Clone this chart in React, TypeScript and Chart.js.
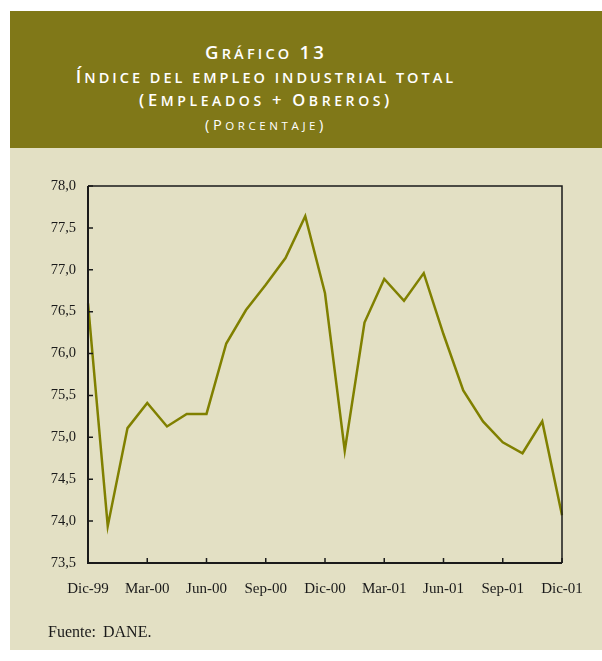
import React, { useEffect, useRef } from "react";
import { Chart, registerables } from "chart.js";

Chart.register(...registerables);

const months = [
  "Dic-99", "Ene-00", "Feb-00", "Mar-00", "Abr-00", "May-00", "Jun-00", "Jul-00", "Ago-00",
  "Sep-00", "Oct-00", "Nov-00", "Dic-00", "Ene-01", "Feb-01", "Mar-01", "Abr-01", "May-01",
  "Jun-01", "Jul-01", "Ago-01", "Sep-01", "Oct-01", "Nov-01", "Dic-01",
];
const empleo = [
  76.6, 73.94, 75.11, 75.41, 75.13, 75.28, 75.28, 76.12, 76.52, 76.82, 77.14, 77.64, 76.72,
  74.84, 76.37, 76.89, 76.63, 76.96, 76.23, 75.56, 75.19, 74.94, 74.81, 75.19, 74.07,
];
const yMin = 73.5;
const yMax = 78.0;
const yStep = 0.5;
const labelEvery = 3;

const INK = "#1a1a1a";

const framePlugin = {
  id: "frame",
  afterDraw(chart: any) {
    const { ctx, chartArea } = chart;
    const { left, right, top, bottom } = chartArea;
    const xs = chart.scales.x;
    const ys = chart.scales.y;
    ctx.save();
    ctx.strokeStyle = INK;
    ctx.lineWidth = 1.5;
    ctx.beginPath();
    ctx.moveTo(left, top);
    ctx.lineTo(right, top);
    ctx.lineTo(right, bottom);
    ctx.stroke();
    ctx.lineWidth = 2;
    ctx.beginPath();
    ctx.moveTo(left, top);
    ctx.lineTo(left, bottom);
    ctx.lineTo(right, bottom);
    ctx.stroke();
    ctx.lineWidth = 1.5;
    ctx.beginPath();
    for (let i = 0; i < months.length; i += labelEvery) {
      const x = xs.getPixelForValue(i);
      ctx.moveTo(x, bottom);
      ctx.lineTo(x, bottom - 5);
    }
    for (let v = yMin; v <= yMax + 1e-9; v += yStep) {
      const y = ys.getPixelForValue(v);
      ctx.moveTo(left, y);
      ctx.lineTo(left + 5, y);
    }
    ctx.stroke();
    ctx.restore();
  },
};

function SmallCaps({ text, big, small }: { text: string; big: number; small: number }) {
  const parts: { s: string; up: boolean }[] = [];
  for (const ch of text) {
    const up = ch !== ch.toLowerCase() || /[0-9()+]/.test(ch);
    const last = parts[parts.length - 1];
    if (last && last.up === up) last.s += ch;
    else parts.push({ s: ch, up });
  }
  return (
    <>
      {parts.map((p, i) => (
        <span key={i} style={{ fontSize: p.up ? big : small }}>
          {p.s.toUpperCase()}
        </span>
      ))}
    </>
  );
}

export default function App() {
  const ref = useRef<HTMLCanvasElement>(null);

  useEffect(() => {
    if (!ref.current) return;
    const chart = new Chart(ref.current, {
      type: "line",
      data: {
        labels: months,
        datasets: [
          {
            data: empleo,
            borderColor: "#808000",
            borderWidth: 2.5,
            pointRadius: 0,
            tension: 0,
            fill: false,
          },
        ],
      },
      options: {
        animation: false,
        responsive: false,
        maintainAspectRatio: false,
        layout: { padding: { top: 38, right: 40, left: 0, bottom: 0 } },
        plugins: { legend: { display: false }, tooltip: { enabled: false }, title: { display: false } },
        scales: {
          x: {
            type: "category",
            offset: false,
            grid: { display: false, drawTicks: false },
            border: { display: false },
            afterFit: (s: any) => {
              s.height = 87;
            },
            ticks: {
              autoSkip: false,
              maxRotation: 0,
              minRotation: 0,
              padding: 17,
              color: INK,
              font: { family: "'Liberation Serif', serif", size: 15 },
              callback: (_v: any, i: number) => (i % labelEvery === 0 ? months[i] : ""),
            },
          },
          y: {
            min: yMin,
            max: yMax,
            grid: { display: false, drawTicks: false },
            border: { display: false },
            afterFit: (s: any) => {
              s.width = 78;
            },
            ticks: {
              stepSize: yStep,
              padding: 12,
              color: INK,
              font: { family: "'Liberation Serif', serif", size: 14.5 },
              callback: (v: any) => Number(v).toFixed(1).replace(".", ","),
            },
          },
        },
      },
      plugins: [framePlugin],
    });
    return () => chart.destroy();
  }, []);

  const titleBase: React.CSSProperties = {
    position: "absolute",
    left: 0,
    width: 532,
    textAlign: "center",
    color: "#ffffff",
    fontFamily: "'Open Sans', sans-serif",
    whiteSpace: "nowrap",
  };

  return (
    <div style={{ position: "absolute", left: 0, top: 0, width: 602, height: 661, background: "#ffffff", overflow: "hidden" }}>
      <div style={{ position: "absolute", left: 10, top: 11, width: 592, height: 137, background: "#807818" }} />
      <div style={{ ...titleBase, top: 40, lineHeight: "24px", fontWeight: 600, letterSpacing: "3.2px" }}>
        <SmallCaps text="Gráfico 13" big={18.5} small={14.5} />
      </div>
      <div style={{ ...titleBase, top: 64, lineHeight: "24px", fontWeight: 600, letterSpacing: "3px" }}>
        <SmallCaps text="Índice del empleo industrial total" big={18} small={14.5} />
      </div>
      <div style={{ ...titleBase, top: 88, lineHeight: "24px", fontWeight: 600, letterSpacing: "3.6px" }}>
        <SmallCaps text="(Empleados + Obreros)" big={16.5} small={14} />
      </div>
      <div style={{ ...titleBase, top: 113, lineHeight: "22px", fontWeight: 400, letterSpacing: "3.6px" }}>
        <SmallCaps text="(Porcentaje)" big={14.5} small={11.5} />
      </div>
      <div style={{ position: "absolute", left: 10, top: 148, width: 592, height: 502, background: "#e3e0c4" }}>
        <canvas ref={ref} width={592} height={502} style={{ width: 592, height: 502, display: "block" }} />
      </div>
      <div
        style={{
          position: "absolute",
          left: 48,
          top: 624,
          fontFamily: "'Liberation Serif', serif",
          fontSize: 16,
          lineHeight: "16px",
          color: INK,
          wordSpacing: "3px",
          whiteSpace: "nowrap",
        }}
      >
        Fuente: DANE.
      </div>
    </div>
  );
}
